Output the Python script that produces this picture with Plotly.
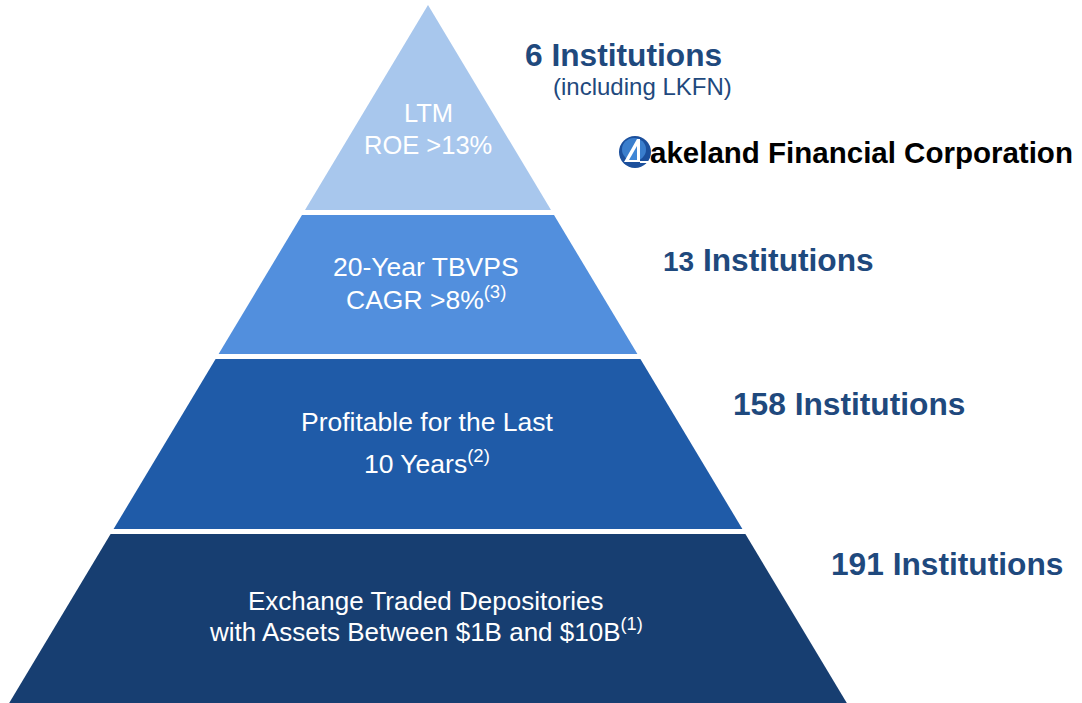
import plotly.graph_objects as go

# ---- data ----
tier_lines = [
    ["LTM", "ROE >13%"],
    ["20-Year TBVPS", "CAGR >8%<sup>(3)</sup>"],
    ["Profitable for the Last", "10 Years<sup>(2)</sup>"],
    ["Exchange Traded Depositories", "with Assets Between $1B and $10B<sup>(1)</sup>"],
]
institution_counts = [6, 13, 158, 191]
count_notes = ["(including LKFN)", "", "", ""]
tier_colors = ["#A8C7ED", "#528FDD", "#1F5BA8", "#173E71"]
logo_text = "akeland Financial Corporation"

# ---- layout geometry (pixels) ----
W, H = 1082, 703
APEX_X, APEX_Y = 428, 5
SLOPE = 0.6  # half-width per px of depth
tier_top = [5, 215, 359, 534]
tier_bot = [210, 354, 529, 703]
line_y = [[113, 145], [267, 298], [422, 462], [601, 630]]
line_x = [428, 426, 427, 426]
label_size = [25.5, 26.5, 26.5, 26]
count_x = [523, 661, 731, 829]
count_y = [55, 260, 404, 564]
note_pos = (551, 86)
TXT = "#1F497D"


def hw(y):
    return (y - APEX_Y) * SLOPE


fig = go.Figure()

for i in range(len(institution_counts)):
    t, b = tier_top[i], tier_bot[i]
    xs = [APEX_X - hw(t), APEX_X + hw(t), APEX_X + hw(b), APEX_X - hw(b), APEX_X - hw(t)]
    ys = [t, t, b, b, t]
    fig.add_trace(go.Scatter(x=xs, y=ys, mode="lines", fill="toself",
                             fillcolor=tier_colors[i], line=dict(width=0, color=tier_colors[i]),
                             hoverinfo="skip", showlegend=False))

annotations = []
for i, lines in enumerate(tier_lines):
    for j, txt in enumerate(lines):
        annotations.append(dict(x=line_x[i], y=line_y[i][j], xref="x", yref="y", text=txt,
                                showarrow=False, xanchor="center", yanchor="middle",
                                font=dict(family="Liberation Sans, Arial", size=label_size[i], color="white")))

for i, n in enumerate(institution_counts):
    num = f"{n}"
    if n == 13:
        num = f'<span style="font-size:28px">{n}</span>'
    annotations.append(dict(x=count_x[i], y=count_y[i], xref="x", yref="y",
                            text=f"<b>{num} Institutions</b>", showarrow=False,
                            xanchor="left", yanchor="middle",
                            font=dict(family="Liberation Sans, Arial", size=31.7, color=TXT)))
    if count_notes[i]:
        annotations.append(dict(x=note_pos[0], y=note_pos[1], xref="x", yref="y",
                                text=count_notes[i], showarrow=False, xanchor="left", yanchor="middle",
                                font=dict(family="Liberation Sans, Arial", size=24, color=TXT)))

# logo
annotations.append(dict(x=648, y=152, xref="x", yref="y", text=f"<b>{logo_text}</b>",
                        showarrow=False, xanchor="left", yanchor="middle",
                        font=dict(family="Liberation Sans, Arial", size=29.5, color="black")))

shapes = [
    dict(type="circle", xref="x", yref="y", x0=619, x1=651, y0=136, y1=168,
         fillcolor="#1B4F9C", line=dict(width=0)),
    dict(type="circle", xref="x", yref="y", x0=622, x1=646, y0=138, y1=161,
         fillcolor="#3F86D6", line=dict(width=0), opacity=0.85),
    dict(type="path", xref="x", yref="y",
         path="M 624 162 L 637 139 L 640 139 L 640 162 Z",
         fillcolor="white", line=dict(width=0)),
    dict(type="path", xref="x", yref="y",
         path="M 629 160 L 637 146 L 637 160 Z",
         fillcolor="#3F86D6", line=dict(width=0)),
    dict(type="line", xref="x", yref="y", x0=640, x1=653, y0=162, y1=162,
         line=dict(color="white", width=2)),
]

fig.update_layout(
    width=W, height=H, margin=dict(l=0, r=0, t=0, b=0),
    paper_bgcolor="white", plot_bgcolor="white",
    xaxis=dict(range=[0, W], visible=False, fixedrange=True),
    yaxis=dict(range=[H, 0], visible=False, fixedrange=True),
    annotations=annotations, shapes=shapes,
)

fig.write_html("out.html", config={"displayModeBar": False},
               post_script="document.body.style.margin='0';document.body.style.overflow='hidden';")
